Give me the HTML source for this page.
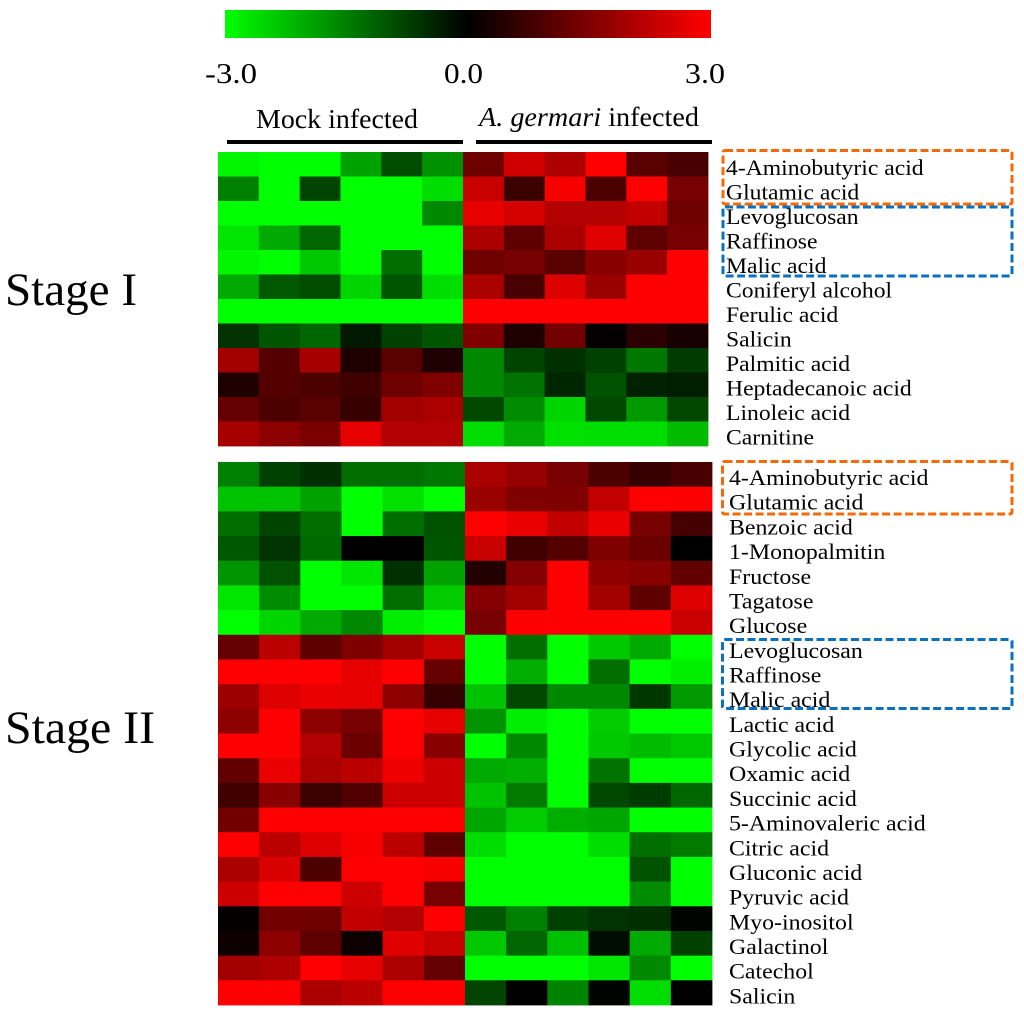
<!DOCTYPE html>
<html lang="en">
<head>
<meta charset="utf-8">
<title>Metabolite heatmap</title>
<style>
html,body{margin:0;padding:0;background:#fff;}
svg{display:block;}
text{font-family:"Liberation Serif",serif;fill:#000;}
</style>
</head>
<body>
<svg id="chart" xmlns="http://www.w3.org/2000/svg" width="1024" height="1017" viewBox="0 0 1024 1017">
  <defs>
    <linearGradient id="scale-gradient" x1="0" y1="0" x2="1" y2="0">
      <stop offset="0" stop-color="#00ff00"/>
      <stop offset="0.5" stop-color="#000000"/>
      <stop offset="1" stop-color="#ff0000"/>
    </linearGradient>
  </defs>
  <rect x="0" y="0" width="1024" height="1017" fill="#ffffff"/>
  <rect x="225" y="10" width="486" height="28" fill="url(#scale-gradient)"/>
  <text x="205" y="83" font-size="28" textLength="52" lengthAdjust="spacingAndGlyphs">-3.0</text>
  <text x="444" y="83" font-size="28" textLength="39" lengthAdjust="spacingAndGlyphs">0.0</text>
  <text x="685" y="83" font-size="28" textLength="40" lengthAdjust="spacingAndGlyphs">3.0</text>
  <text x="256" y="128" font-size="27" textLength="162" lengthAdjust="spacingAndGlyphs">Mock infected</text>
  <text x="479" y="126" font-size="27" textLength="220" lengthAdjust="spacingAndGlyphs"><tspan font-style="italic">A. germari</tspan> infected</text>
  <rect x="227" y="140" width="236" height="4" fill="#000"/>
  <rect x="476" y="140" width="236" height="4" fill="#000"/>
  <text x="5" y="305" font-size="47" textLength="132" lengthAdjust="spacingAndGlyphs">Stage I</text>
  <text x="5" y="743" font-size="47" textLength="150" lengthAdjust="spacingAndGlyphs">Stage II</text>
  <g id="cells-1"></g>
  <g id="cells-2"></g>
  <g id="labels-1"></g>
  <g id="labels-2"></g>
  <rect x="723" y="150.5" width="289" height="53.5" rx="2" fill="none" stroke="#f46a0a" stroke-width="3" stroke-dasharray="8 3.5"/>
  <rect x="723" y="207" width="289" height="69" rx="2" fill="none" stroke="#0a70c0" stroke-width="3" stroke-dasharray="8 3.5"/>
  <rect x="722.5" y="461.5" width="289.5" height="52.5" rx="2" fill="none" stroke="#f46a0a" stroke-width="3" stroke-dasharray="8 3.5"/>
  <rect x="722.5" y="639.5" width="289.5" height="69" rx="2" fill="none" stroke="#0a70c0" stroke-width="3" stroke-dasharray="8 3.5"/>
</svg>
<script>
const stage1Metabolites = ["4-Aminobutyric acid","Glutamic acid","Levoglucosan","Raffinose","Malic acid","Coniferyl alcohol","Ferulic acid","Salicin","Palmitic acid","Heptadecanoic acid","Linoleic acid","Carnitine"];
const stage2Metabolites = ["4-Aminobutyric acid","Glutamic acid","Benzoic acid","1-Monopalmitin","Fructose","Tagatose","Glucose","Levoglucosan","Raffinose","Malic acid","Lactic acid","Glycolic acid","Oxamic acid","Succinic acid","5-Aminovaleric acid","Citric acid","Gluconic acid","Pyruvic acid","Myo-inositol","Galactinol","Catechol","Salicin"];
const stage1Values = [
  [-2.9,-3,-3,-1.9,-0.9,-1.7, 1.3,2.45,2.05,3,1.05,0.85],
  [-1.5,-3,-0.8,-3,-3,-2.6, 2.35,0.7,2.9,0.9,3,1.4],
  [-3,-3,-3,-3,-3,-1.6, 2.7,2.5,2.1,2.1,2.3,1.3],
  [-2.7,-2,-1.2,-3,-3,-3, 2,1.1,2,2.65,1.1,1.4],
  [-2.9,-3,-2.35,-3,-1.3,-3, 1.3,1.4,1.05,1.6,1.8,3],
  [-2,-1.05,-0.9,-2.5,-1,-2.6, 2,0.85,2.6,1.8,3,3],
  [-3,-3,-3,-3,-3,-3, 3,3,3,3,3,3],
  [-0.6,-1,-1.2,-0.3,-0.75,-1, 1.5,0.35,1.35,0.05,0.5,0.3],
  [1.9,1,1.95,0.35,1.05,0.35, -1.6,-0.8,-0.55,-0.75,-1.4,-0.7],
  [0.35,1,0.9,0.75,1.3,1.5, -1.6,-1.35,-0.45,-0.95,-0.4,-0.35],
  [1.2,0.9,1.05,0.65,1.9,2, -0.85,-1.65,-2.5,-0.85,-1.8,-0.85],
  [1.95,1.65,1.45,2.7,2.1,2.1, -2.6,-2,-2.65,-2.6,-2.6,-2.2]
];
const stage2Values = [
  [-1.5,-0.75,-0.55,-1.3,-1.3,-1.4, 2,1.75,1.4,0.9,0.65,0.85],
  [-2.3,-2.3,-1.9,-3,-2.65,-3, 1.8,1.5,1.5,2.3,3,3],
  [-1.3,-0.8,-1.3,-3,-1.3,-0.95, 3,2.75,2.3,2.75,1.4,0.8],
  [-1.05,-0.6,-1.25,0,0,-1, 2.35,0.75,1,1.5,1.25,0],
  [-1.75,-0.95,-3,-2.7,-0.55,-1.9, 0.4,1.55,3,1.7,1.6,1.15],
  [-2.7,-1.65,-3,-3,-1.3,-2.4, 1.55,1.9,3,1.9,1.1,2.6],
  [-3,-2.5,-2,-1.6,-2.8,-3, 1.4,3,3,3,3,2.35],
  [1.2,2.2,1.1,1.5,1.9,2.35, -3,-1.3,-3,-2.35,-2,-3],
  [3,3,3,2.7,3,1.2, -3,-2.05,-3,-1.3,-3,-2.8],
  [1.85,2.6,2.75,2.7,1.65,0.65, -2.3,-0.85,-1.6,-1.6,-0.65,-1.8],
  [1.65,3,1.65,1.4,3,2.7, -1.75,-2.8,-3,-2.4,-3,-3],
  [3,3,2.1,1.25,3,1.6, -3,-1.6,-3,-2.35,-2.2,-2.35],
  [1.15,2.75,2,2.2,2.8,2.4, -2,-2.05,-3,-1.35,-3,-3],
  [0.75,1.6,0.7,0.95,2.4,2.4, -2.3,-1.45,-3,-0.85,-0.7,-1.2],
  [1.35,3,3,3,3,3, -1.95,-2.4,-2.05,-1.95,-3,-3],
  [3,2.2,2.6,2.9,2.2,1.1, -2.6,-3,-3,-2.6,-1.3,-1.45],
  [2,2.55,0.9,3,3,2.9, -3,-3,-3,-3,-0.95,-3],
  [2.4,3,3,2.4,3,1.4, -3,-3,-3,-3,-1.65,-3],
  [0.05,1.35,1.3,2.3,2.1,3, -1.05,-1.5,-0.75,-0.6,-0.55,-0.05],
  [0.15,1.65,1.1,0.15,2.65,2.35, -2.35,-1.2,-2.25,-0.15,-2,-0.75],
  [1.9,2.05,3,2.7,2,1.2, -3,-3,-3,-2.7,-1.6,-3],
  [3,3,2,2.2,3,3, -0.8,0,-1.55,-0.05,-2.6,0]
];
const svgNS = "http://www.w3.org/2000/svg";
function colorScale(value) {
  const clamped = Math.max(-3, Math.min(3, value));
  const level = Math.round(Math.abs(clamped) / 3 * 255);
  return clamped >= 0 ? "rgb(" + level + ",0,0)" : "rgb(0," + level + ",0)";
}
function bandScale(start, end, count) {
  return function (index) { return start + (end - start) * index / count; };
}
function drawHeatmap(values, cellsId, left, right, top, bottom) {
  const group = document.getElementById(cellsId);
  const columnCount = values[0].length;
  const x = bandScale(left, right, columnCount);
  const y = bandScale(top, bottom, values.length);
  values.forEach(function (row, r) {
    row.forEach(function (value, c) {
      const cell = document.createElementNS(svgNS, "rect");
      
      
      cell.setAttribute("x", x(c));
      cell.setAttribute("y", y(r));
      cell.setAttribute("width", x(c + 1) - x(c) + 0.4);
      cell.setAttribute("height", y(r + 1) - y(r) + 0.4);
      cell.setAttribute("fill", colorScale(value));
      group.appendChild(cell);
    });
  });
}
function drawLabels(names, labelsId, labelX, scaleX, top, bottom) {
  const group = document.getElementById(labelsId);
  const y = bandScale(top, bottom, names.length);
  names.forEach(function (name, r) {
    const label = document.createElementNS(svgNS, "text");
    
    
    label.setAttribute("font-size", "22");
    label.setAttribute("transform", "translate(" + labelX + "," + ((y(r) + y(r + 1)) / 2 + 10.7) + ") scale(" + scaleX + ",1)");
    label.textContent = name;
    group.appendChild(label);
  });
}
drawHeatmap(stage1Values, "cells-1", 218, 708, 152, 446);
drawHeatmap(stage2Values, "cells-2", 218, 712, 462, 1005);
drawLabels(stage1Metabolites, "labels-1", 726, 1.075, 152, 446);
drawLabels(stage2Metabolites, "labels-2", 729, 1.085, 462, 1005);
</script>
</body>
</html>
